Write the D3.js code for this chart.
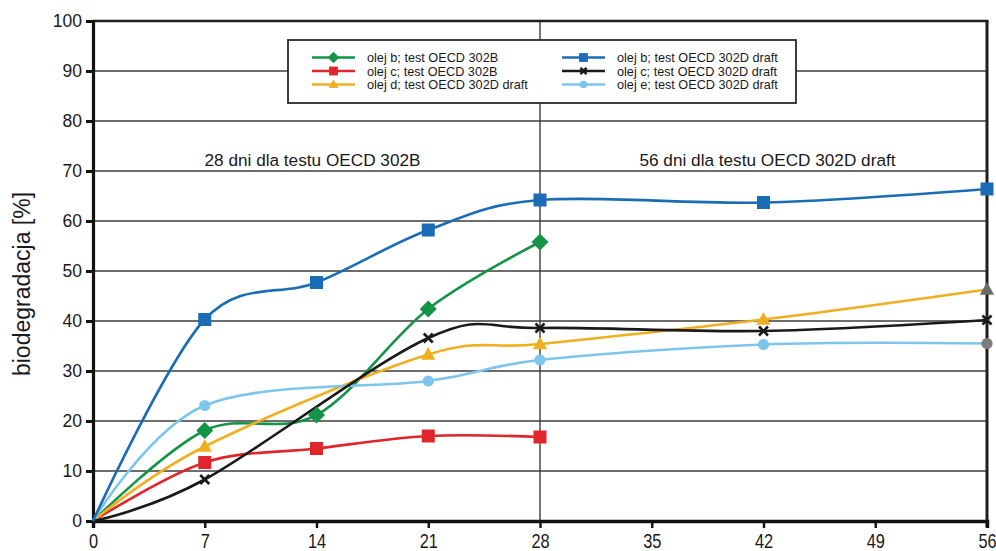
<!DOCTYPE html>
<html>
<head>
<meta charset="utf-8">
<script src="https://cdn.jsdelivr.net/npm/d3@7"></script>
<style>
  html, body { margin: 0; padding: 0; background: #fff; }
  svg { display: block; font-family: "Liberation Sans", Arial, Helvetica, sans-serif; }
</style>
</head>
<body>
<svg id="chart" width="996" height="551"></svg>
<script>
// Biodegradation (%) over time (days) for oil samples, tests OECD 302B and 302D draft
const dayTicks = [0, 7, 14, 21, 28, 35, 42, 49, 56];
const percentTicks = [0, 10, 20, 30, 40, 50, 60, 70, 80, 90, 100];

const days302B = [0, 7, 14, 21, 28];
const oilB302B = [0, 18.1, 21.2, 42.4, 55.8];
const oilC302B = [0, 11.7, 14.5, 17.0, 16.8];

const daysOilD = [0, 7, 21, 28, 42, 56];
const oilD302D = [0, 14.9, 33.3, 35.4, 40.3, 46.3];

const daysOilB = [0, 7, 14, 21, 28, 42, 56];
const oilB302D = [0, 40.3, 47.7, 58.2, 64.2, 63.7, 66.4];

const daysOilC = [0, 7, 21, 28, 42, 56];
const oilC302D = [0, 8.3, 36.6, 38.6, 38.0, 40.2];

const daysOilE = [0, 7, 21, 28, 42, 56];
const oilE302D = [0, 23.1, 28.0, 32.2, 35.3, 35.5];

const seriesNames = [
  "olej b; test OECD 302B",
  "olej c; test OECD 302B",
  "olej d; test OECD 302D draft",
  "olej b; test OECD 302D draft",
  "olej c; test OECD 302D draft",
  "olej e; test OECD 302D draft"
];
const periodLabels = ["28 dni dla testu OECD 302B", "56 dni dla testu OECD 302D draft"];
const periodDays = [28, 56];
const yTitle = "biodegradacja [%]";

// ---- styling ----
const style = [
  { color: "#149447", marker: "diamond" },
  { color: "#e1262b", marker: "square" },
  { color: "#eeb020", marker: "triangle", lastColor: "#6b6b6b" },
  { color: "#1a6db4", marker: "square" },
  { color: "#1a1a1a", marker: "cross" },
  { color: "#7ec5ee", marker: "circle", lastColor: "#7d7d7d" }
];

const series = [
  { x: days302B, y: oilB302B },
  { x: days302B, y: oilC302B },
  { x: daysOilD, y: oilD302D },
  { x: daysOilB, y: oilB302D },
  { x: daysOilC, y: oilC302D },
  { x: daysOilE, y: oilE302D }
].map((s, i) => ({ name: seriesNames[i], ...style[i],
  points: s.x.map((d, j) => ({ day: d, value: s.y[j] })) }));

const svg = d3.select("#chart");
const plotLeft = 93, plotRight = 987, plotTop = 21, plotBottom = 521;

const x = d3.scaleLinear().domain([0, 56]).range([plotLeft, plotRight]);
const y = d3.scaleLinear().domain([0, 100]).range([plotBottom, plotTop]);

// horizontal gridlines
svg.append("g")
  .selectAll("line")
  .data(percentTicks.filter(t => t > 0 && t < 100))
  .join("line")
  .attr("x1", plotLeft).attr("x2", plotRight)
  .attr("y1", d => y(d)).attr("y2", d => y(d))
  .attr("stroke", "#3c3c3c").attr("stroke-width", 1.6);

// divider at day 28
svg.append("line")
  .attr("x1", x(28)).attr("x2", x(28))
  .attr("y1", plotTop).attr("y2", plotBottom)
  .attr("stroke", "#3c3c3c").attr("stroke-width", 1.4);

// frame: top and right
svg.append("line").attr("x1", plotLeft).attr("x2", plotRight + 1.5)
  .attr("y1", plotTop).attr("y2", plotTop)
  .attr("stroke", "#1e1e1e").attr("stroke-width", 2.6);
svg.append("line").attr("x1", plotRight).attr("x2", plotRight)
  .attr("y1", plotTop).attr("y2", plotBottom + 6)
  .attr("stroke", "#1e1e1e").attr("stroke-width", 3);

// period annotations, centred over each test period
svg.append("g")
  .selectAll("text")
  .data(periodDays)
  .join("text")
  .attr("x", (d, i) => i === 0 ? (x(0) + x(d)) / 2 - 4 : (x(28) + x(d)) / 2 + 4)
  .attr("y", 166)
  .attr("text-anchor", "middle")
  .attr("font-size", 17.2)
  .attr("fill", "#1a1a1a")
  .text((d, i) => periodLabels[i]);

// y axis
const yAxis = d3.axisLeft(y).tickValues(percentTicks).tickSize(7).tickPadding(4);
const gy = svg.append("g").attr("transform", `translate(${plotLeft},0)`).call(yAxis);
gy.select(".domain").attr("stroke", "#111").attr("stroke-width", 3.2);
gy.selectAll(".tick line").attr("stroke", "#111").attr("stroke-width", 3);
gy.selectAll(".tick text").attr("font-size", 17.5).attr("fill", "#1a1a1a")
  .attr("font-family", "Liberation Sans, Arial, sans-serif");

// x axis
const xAxis = d3.axisBottom(x).tickValues(dayTicks).tickSize(7).tickPadding(0);
const gx = svg.append("g").attr("transform", `translate(0,${plotBottom})`).call(xAxis);
gx.select(".domain").attr("stroke", "#111").attr("stroke-width", 3.4);
gx.selectAll(".tick line").attr("stroke", "#111").attr("stroke-width", 2.4);
gx.selectAll(".tick text")
  .attr("font-size", 20).attr("fill", "#1a1a1a")
  .attr("font-family", "Liberation Sans, Arial, sans-serif")
  .attr("dy", null).attr("y", 0)
  .attr("transform", "translate(0,27) scale(0.82,1)");

// y title
svg.append("text")
  .attr("transform", `translate(30,${(plotTop + plotBottom) / 2 + 13}) rotate(-90)`)
  .attr("text-anchor", "middle")
  .attr("font-size", 23)
  .attr("fill", "#1a1a1a")
  .text(yTitle);

// lines
const line = d3.line()
  .x(d => x(d.day)).y(d => y(d.value))
  .curve(d3.curveCardinal.tension(0));

const plot = svg.append("g");
const drawOrder = [0, 1, 2, 5, 4, 3];
drawOrder.forEach(i => {
  const s = series[i];
  plot.append("path")
    .datum(s.points)
    .attr("d", line)
    .attr("fill", "none")
    .attr("stroke", s.color)
    .attr("stroke-width", 2.6)
    .attr("stroke-linejoin", "round");
});

function drawMarker(g, type, cx, cy, color, scale = 1) {
  if (type === "square") {
    const s = 13 * scale;
    g.append("rect").attr("x", cx - s / 2).attr("y", cy - s / 2)
      .attr("width", s).attr("height", s).attr("fill", color);
  } else if (type === "diamond") {
    const r = 8.5 * scale;
    g.append("path")
      .attr("d", `M${cx},${cy - r}L${cx + r},${cy}L${cx},${cy + r}L${cx - r},${cy}Z`)
      .attr("fill", color);
  } else if (type === "triangle") {
    const r = 7.5 * scale;
    g.append("path")
      .attr("d", `M${cx},${cy - r}L${cx + r * 0.95},${cy + r * 0.7}L${cx - r * 0.95},${cy + r * 0.7}Z`)
      .attr("fill", color);
  } else if (type === "circle") {
    g.append("circle").attr("cx", cx).attr("cy", cy).attr("r", 5.6 * scale).attr("fill", color);
  } else if (type === "cross") {
    const r = 4.5 * scale;
    g.append("path")
      .attr("d", `M${cx - r},${cy - r}L${cx + r},${cy + r}M${cx - r},${cy + r}L${cx + r},${cy - r}`)
      .attr("stroke", color).attr("stroke-width", 2.6).attr("fill", "none");
  }
}

// markers (none at day 0)
drawOrder.forEach(i => {
  const s = series[i];
  const g = plot.append("g");
  s.points.forEach((p, j) => {
    if (p.day === 0) return;
    const last = j === s.points.length - 1;
    const c = last && s.lastColor ? s.lastColor : s.color;
    drawMarker(g, s.marker, x(p.day), y(p.value), c);
  });
});

// legend
const lg = svg.append("g");
lg.append("rect")
  .attr("x", 288).attr("y", 40).attr("width", 508).attr("height", 63)
  .attr("fill", "#fff").attr("stroke", "#2a2a2a").attr("stroke-width", 1.8);

series.forEach((s, i) => {
  const col = i < 3 ? 0 : 1;
  const row = i % 3;
  const lx = col === 0 ? 312 : 562;
  const ly = 57.5 + row * 13.5;
  lg.append("line")
    .attr("x1", lx).attr("x2", lx + 43)
    .attr("y1", ly).attr("y2", ly)
    .attr("stroke", s.color).attr("stroke-width", 2.6);
  drawMarker(lg, s.marker, lx + 21.5, ly, s.color, 0.68);
  lg.append("text")
    .attr("x", lx + 55).attr("y", ly + 4.6)
    .attr("font-size", 12.7).attr("fill", "#1a1a1a")
    .text(s.name);
});
</script>
</body>
</html>
